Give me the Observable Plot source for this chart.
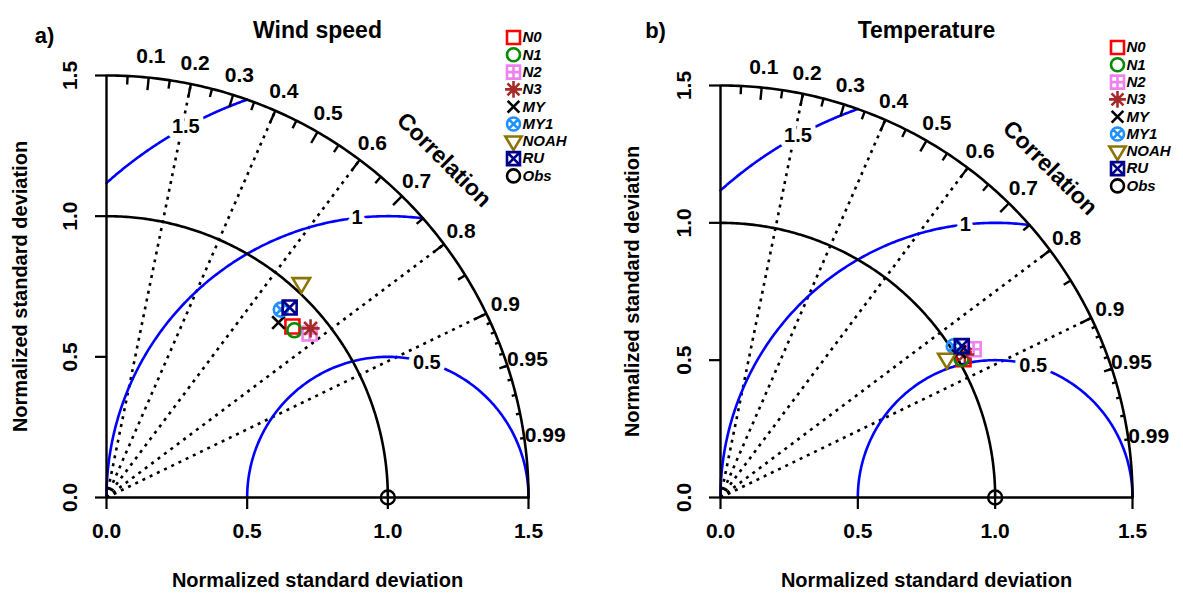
<!DOCTYPE html>
<html><head><meta charset="utf-8">
<script src="https://cdn.jsdelivr.net/npm/d3@7"></script>
<script src="https://cdn.jsdelivr.net/npm/@observablehq/plot@0.6"></script>
<style>
body{margin:0;background:#fff;}
#wrap{display:flex;width:1183px;height:594px;overflow:hidden;}
svg{overflow:visible;}
</style></head><body><div id="wrap"></div>
<script>
// ---- data ----
const models = ["N0","N1","N2","N3","MY","MY1","NOAH","RU"];
const windSd  = [0.898, 0.894, 0.928, 0.942, 0.872, 0.911, 1.029, 0.938];
const windCor = [0.736, 0.747, 0.778, 0.770, 0.701, 0.680, 0.673, 0.694];
const tempSd  = [1.018, 1.012, 1.068, 1.031, 1.019, 1.012, 0.966, 1.037];
const tempCor = [0.869, 0.867, 0.863, 0.863, 0.854, 0.839, 0.853, 0.847];
const modelColors = ["#FF0000","#008B00","#EE82EE","#A52A2A","#000000","#1E90FF","#8B7500","#00008B"];
const sdTicks = [0, 0.5, 1, 1.5];
const corLabels = [0.1,0.2,0.3,0.4,0.5,0.6,0.7,0.8,0.9,0.95,0.99];
const corBigTicks = [0.1,0.2,0.3,0.4,0.5,0.6,0.7,0.8,0.9];
const corMedTicks = [0.05,0.15,0.25,0.35,0.45,0.55,0.65,0.75,0.85,0.95];
const corSmallTicks = [0.91,0.92,0.93,0.94,0.95,0.96,0.97,0.98,0.99];
const corLines = [0.2, 0.4, 0.6, 0.8, 0.9];
const rmsLevels = [0.5, 1, 1.5];
const rmsLabelAngles = [1.29, 1.68, 2.07];
const maxSd = 1.5, refSd = 1;

// ---- symbols (R pch look-alikes) ----
function sym(f){ return {draw(c, size){ const r = Math.sqrt(size/Math.PI); f(c, r); }}; }
const sSquare = sym((c,r)=>{ c.rect(-r,-r,2*r,2*r); });
const sCircle = sym((c,r)=>{ c.moveTo(r,0); c.arc(0,0,r,0,2*Math.PI); });
const sSquarePlus = sym((c,r)=>{ c.rect(-r,-r,2*r,2*r); c.moveTo(-r,0); c.lineTo(r,0); c.moveTo(0,-r); c.lineTo(0,r); });
const sAster = sym((c,r)=>{ const k=1.3*r, d=0.92*r; c.moveTo(-k,0); c.lineTo(k,0); c.moveTo(0,-k); c.lineTo(0,k);
  c.moveTo(-d,-d); c.lineTo(d,d); c.moveTo(-d,d); c.lineTo(d,-d); });
const sTimes = sym((c,r)=>{ const d=0.9*r; c.moveTo(-d,-d); c.lineTo(d,d); c.moveTo(-d,d); c.lineTo(d,-d); });
const sCircleX = sym((c,r)=>{ c.moveTo(r,0); c.arc(0,0,r,0,2*Math.PI); const d=0.707*r; c.moveTo(-d,-d); c.lineTo(d,d); c.moveTo(-d,d); c.lineTo(d,-d); });
const sTriDown = sym((c,r)=>{ c.moveTo(-1.25*r,-0.75*r); c.lineTo(1.25*r,-0.75*r); c.lineTo(0,1.35*r); c.closePath(); });
const sSquareX = sym((c,r)=>{ c.rect(-r,-r,2*r,2*r); c.moveTo(-r,-r); c.lineTo(r,r); c.moveTo(-r,r); c.lineTo(r,-r); });
const modelSymbols = [sSquare, sCircle, sSquarePlus, sAster, sTimes, sCircleX, sTriDown, sSquareX];

const FONT = "'Liberation Sans', Arial, sans-serif";
const polar = (r, c) => ({x: r*c, y: r*Math.sqrt(Math.max(0, 1-c*c))});

function panel({sd, cor, title, tag, width, marginLeft, marginTop, titleDy, tagDx, tagDy, ylabDx, legDx}) {
  const height = 594, marginBottom = 97;
  const size = height - marginTop - marginBottom;
  const marginRight = width - marginLeft - size;
  const marks = [];
  // dotted correlation rays
  marks.push(Plot.link(corLines, {x1: () => 0, y1: () => 0,
    x2: c => polar(maxSd, c).x, y2: c => polar(maxSd, c).y,
    stroke: "#000", strokeWidth: 2.6, strokeDasharray: "3,5"}));
  // RMS (gamma) arcs
  for (const g of rmsLevels) {
    const xs = (maxSd*maxSd - g*g + refSd*refSd) / (2*refSd);
    const a0 = Math.acos(Math.max(-1, Math.min(1, (xs - refSd)/g)));
    const a1 = g > refSd ? Math.acos(-refSd/g) : Math.PI;
    const pts = d3.range(0, 201).map(k => { const a = a0 + (a1-a0)*k/200; return {x: refSd + g*Math.cos(a), y: g*Math.sin(a)}; });
    marks.push(Plot.line(pts, {x: "x", y: "y", stroke: "#0000FF", strokeWidth: 2.6}));
  }
  const gLab = rmsLevels.map((g, i) => ({g, x: refSd + g*Math.cos(rmsLabelAngles[i]), y: g*Math.sin(rmsLabelAngles[i])}));
  marks.push(Plot.text(gLab, {x: "x", y: "y", text: d => String(d.g), fontSize: 20, fontWeight: "bold",
    fill: "#000", stroke: "#fff", strokeWidth: 10}));
  // reference sd arc and outer arc
  const arcPts = r => d3.range(0, 181).map(k => { const a = k/180*Math.PI/2; return {x: r*Math.cos(a), y: r*Math.sin(a)}; });
  marks.push(Plot.line(arcPts(refSd), {x: "x", y: "y", stroke: "#000", strokeWidth: 2.6}));
  marks.push(Plot.line(arcPts(maxSd), {x: "x", y: "y", stroke: "#000", strokeWidth: 2.6}));
  // correlation ticks
  const tickLink = (arr, k) => Plot.link(arr, {x1: c => polar(maxSd, c).x, y1: c => polar(maxSd, c).y,
    x2: c => polar(k*maxSd, c).x, y2: c => polar(k*maxSd, c).y, stroke: "#000", strokeWidth: 2.4});
  marks.push(tickLink(corBigTicks, 0.97), tickLink(corMedTicks, 0.98), tickLink(corSmallTicks, 0.99));
  // axes
  marks.push(Plot.ruleY([0], {stroke: "#000", strokeWidth: 2.4}));
  marks.push(Plot.ruleX([0], {stroke: "#000", strokeWidth: 2.4}));
  marks.push(Plot.axisX({ticks: sdTicks, anchor: "bottom", tickSize: 12, tickPadding: 14, tickFormat: d => d.toFixed(1),
    fontSize: 21, fontWeight: "bold", fill: "#000", stroke: "#000", strokeWidth: 2.2, label: null}));
  marks.push(Plot.axisY({ticks: sdTicks, anchor: "left", tickSize: 11, tickPadding: 19, tickRotate: -90, tickFormat: d => d.toFixed(1),
    fontSize: 21, fontWeight: "bold", fill: "#000", stroke: "#000", strokeWidth: 2.2, label: null}));
  // correlation labels
  marks.push(Plot.text(corLabels, {x: c => polar(1.05*maxSd, c).x, y: c => polar(1.05*maxSd, c).y,
    text: c => String(c), fontSize: 21, fontWeight: "bold", fill: "#000"}));
  marks.push(Plot.text(["Correlation"], {x: () => 0.8*maxSd, y: () => 0.8*maxSd, text: d => d, rotate: 45,
    fontSize: 23, fontWeight: "bold", fill: "#000"}));
  // observation point
  marks.push(Plot.dot([refSd], {x: d => d, y: () => 0, symbol: sCircle, r: 7, stroke: "#000", strokeWidth: 2.4, fill: "none"}));
  // models
  models.forEach((m, i) => {
    marks.push(Plot.dot([i], {x: k => polar(sd[k], cor[k]).x, y: k => polar(sd[k], cor[k]).y,
      symbol: modelSymbols[i], r: 7, stroke: modelColors[i], strokeWidth: 2.6, fill: "none"}));
  });
  // legend
  const legNames = [...models, "Obs"];
  const legSyms = [...modelSymbols, sCircle];
  const legCols = [...modelColors, "#000"];
  const legDy = -38, legStep = 17.3;
  legNames.forEach((n, i) => {
    marks.push(Plot.dot([n], {frameAnchor: "top-left", dx: legDx, dy: legDy + i*legStep, symbol: legSyms[i], r: 6.5,
      stroke: legCols[i], strokeWidth: 2.6, fill: "none"}));
    marks.push(Plot.text([n], {frameAnchor: "top-left", dx: legDx + 9, dy: legDy + i*legStep, text: d => d,
      textAnchor: "start", lineAnchor: "middle", fontSize: 15, fontWeight: "bold", fontStyle: "italic", fill: "#000"}));
  });
  // titles and labels
  marks.push(Plot.text([title], {frameAnchor: "top", dy: titleDy, text: d => d, textAnchor: "middle", lineAnchor: "middle",
    fontSize: 23, fontWeight: "bold", fill: "#000"}));
  marks.push(Plot.text([tag], {frameAnchor: "top-left", dx: tagDx, dy: tagDy, text: d => d, textAnchor: "middle", lineAnchor: "middle",
    fontSize: 22, fontWeight: "bold", fill: "#000"}));
  marks.push(Plot.text(["Normalized standard deviation"], {frameAnchor: "bottom", dy: 83, text: d => d, textAnchor: "middle", lineAnchor: "middle",
    fontSize: 20, fontWeight: "bold", fill: "#000"}));
  marks.push(Plot.text(["Normalized standard deviation"], {frameAnchor: "left", dx: ylabDx, rotate: -90, text: d => d, textAnchor: "middle", lineAnchor: "middle",
    fontSize: 20, fontWeight: "bold", fill: "#000"}));

  return Plot.plot({
    width, height, marginLeft, marginRight, marginTop, marginBottom,
    x: {domain: [0, maxSd]}, y: {domain: [0, maxSd]},
    style: {fontFamily: FONT, background: "#fff", overflow: "visible"},
    marks
  });
}

const wrap = document.getElementById("wrap");
wrap.appendChild(panel({sd: windSd, cor: windCor, title: "Wind speed", tag: "a)", width: 600, marginLeft: 106, marginTop: 75,
  titleDy: -45, tagDx: -62, tagDy: -40, ylabDx: -86, legDx: 407}));
wrap.appendChild(panel({sd: tempSd, cor: tempCor, title: "Temperature", tag: "b)", width: 583, marginLeft: 120, marginTop: 85,
  titleDy: -55, tagDx: -65, tagDy: -55, ylabDx: -88, legDx: 397}));
</script>
</body></html>
